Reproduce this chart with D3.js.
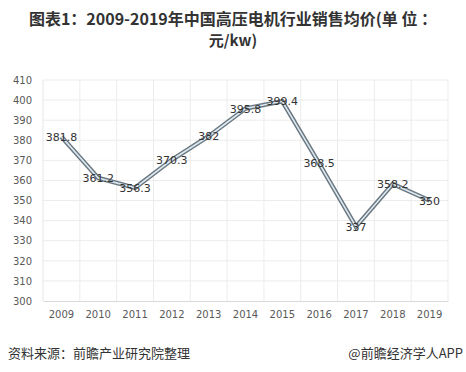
<!DOCTYPE html>
<html>
<head>
<meta charset="utf-8">
<script src="https://cdn.jsdelivr.net/npm/d3@7"></script>
<style>
  body { margin: 0; background: #fff; }
  svg { display: block; font-family: "Noto Sans CJK SC", "DejaVu Sans", sans-serif; }
</style>
</head>
<body>
<div id="chart"></div>
<script>
const years = ["2009", "2010", "2011", "2012", "2013", "2014", "2015", "2016", "2017", "2018", "2019"]
const prices = [381.8, 361.2, 356.3, 370.3, 382, 395.8, 399.4, 368.5, 337, 358.2, 350]
const yTicks = [300, 310, 320, 330, 340, 350, 360, 370, 380, 390, 400, 410]

const W = 466, H = 372
const margin = {top: 80, right: 18, bottom: 71, left: 43}
const width = W - margin.left - margin.right
const height = H - margin.top - margin.bottom

const svg = d3.select("#chart").append("svg")
    .attr("width", W)
    .attr("height", H)

// title
svg.append("text")
    .attr("x", W / 2).attr("y", 25)
    .attr("text-anchor", "middle")
    .attr("font-size", "16px").attr("font-weight", "bold").attr("fill", "#333")
    .text("图表1：2009-2019年中国高压电机行业销售均价(单 位 ：")
svg.append("text")
    .attr("x", W / 2).attr("y", 46)
    .attr("text-anchor", "middle")
    .attr("font-size", "15px").attr("font-weight", "bold").attr("fill", "#333")
    .text("元/kw)")

const g = svg.append("g")
    .attr("transform", "translate(" + margin.left + "," + margin.top + ")")

const x = d3.scaleBand().domain(years).range([0, width])
const y = d3.scaleLinear().domain([300, 410]).range([height, 0])

// gridlines
g.append("g")
    .selectAll("line")
    .data(yTicks.slice(1))
    .enter().append("line")
    .attr("x1", 0).attr("x2", width)
    .attr("y1", d => y(d)).attr("y2", d => y(d))
    .attr("stroke", "#ececec")

g.append("g")
    .selectAll("line")
    .data(years.slice(1).concat(["end"]))
    .enter().append("line")
    .attr("x1", (d, i) => x.step() * (i + 1)).attr("x2", (d, i) => x.step() * (i + 1))
    .attr("y1", 0).attr("y2", height)
    .attr("stroke", "#ececec")

// axes
const yAxis = d3.axisLeft(y).tickValues(yTicks).tickSize(0).tickPadding(11)
g.append("g").attr("class", "y axis").call(yAxis)

const xAxis = d3.axisBottom(x).tickSize(0).tickPadding(10)
g.append("g").attr("class", "x axis")
    .attr("transform", "translate(0," + height + ")")
    .call(xAxis)

g.selectAll(".y.axis .domain").remove()
g.selectAll(".x.axis .domain").attr("stroke", "#d9d9d9")
g.selectAll(".axis text")
    .attr("fill", "#595959")
    .attr("font-size", "10px")
    .attr("font-family", "'DejaVu Sans', sans-serif")

g.append("line")
    .attr("x1", 0).attr("x2", 0).attr("y1", 0).attr("y2", height)
    .attr("stroke", "#e6e6e6")

// line: grey outline with light core
const line = d3.line()
    .x((d, i) => x(years[i]) + x.bandwidth() / 2)
    .y(d => y(d))

g.append("path")
    .datum(prices)
    .attr("d", line)
    .attr("fill", "none")
    .attr("stroke", "#6b7780")
    .attr("stroke-width", 4.5)
    .attr("stroke-linejoin", "miter")

g.append("path")
    .datum(prices)
    .attr("d", line)
    .attr("fill", "none")
    .attr("stroke", "#dde9f0")
    .attr("stroke-width", 1.6)
    .attr("stroke-linejoin", "miter")

// data labels
g.selectAll(".label")
    .data(prices)
    .enter().append("text")
    .attr("class", "label")
    .attr("x", (d, i) => x(years[i]) + x.bandwidth() / 2)
    .attr("y", d => y(d) + 4)
    .attr("text-anchor", "middle")
    .attr("font-size", "11px")
    .attr("font-family", "'DejaVu Sans', sans-serif")
    .attr("fill", "#333")
    .text(d => d)

// footer
svg.append("text")
    .attr("x", 8).attr("y", 358)
    .attr("font-size", "13px").attr("fill", "#333")
    .text("资料来源：前瞻产业研究院整理")
svg.append("text")
    .attr("x", 463).attr("y", 358)
    .attr("text-anchor", "end")
    .attr("font-size", "13px").attr("fill", "#333")
    .text("@前瞻经济学人APP")
</script>
</body>
</html>
